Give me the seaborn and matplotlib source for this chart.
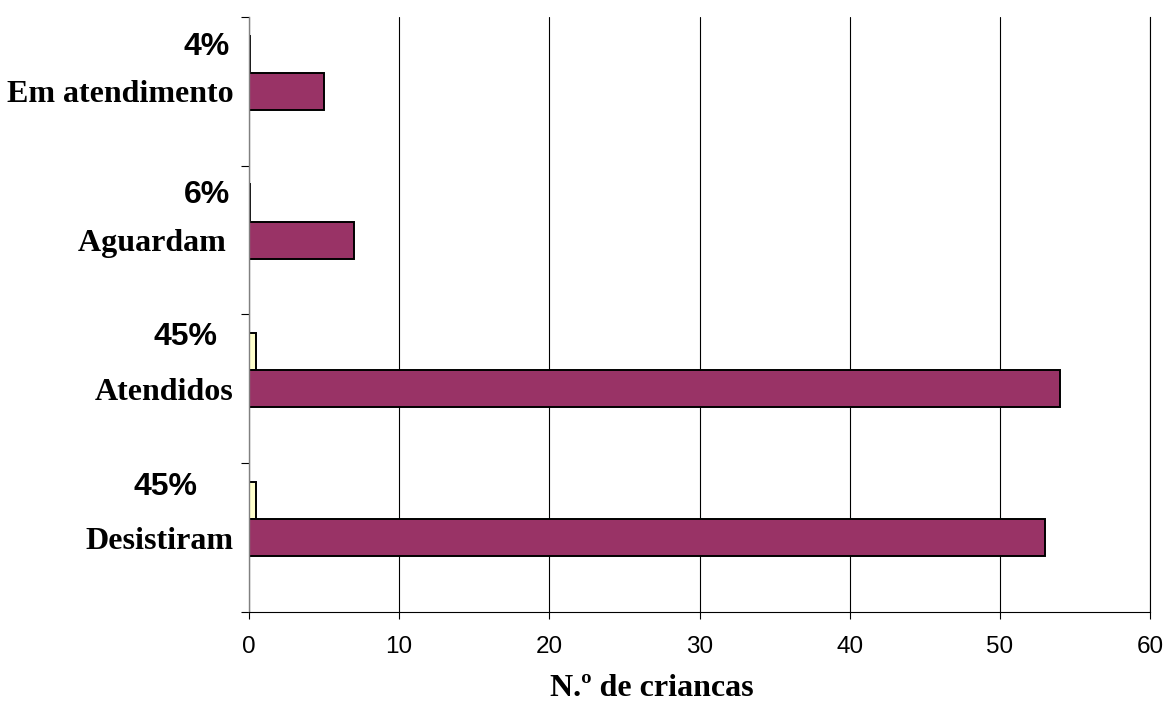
import matplotlib
matplotlib.use('Agg')
import matplotlib.pyplot as plt
import matplotlib.transforms as mtransforms
import seaborn as sns
import pandas as pd

# dados
categorias = ['Em atendimento', 'Aguardam', 'Atendidos', 'Desistiram']
rotulos_cat = ['Em atendimento', 'Aguardam ', 'Atendidos', 'Desistiram']
n_criancas = [5, 7, 54, 53]
percentagens = [0.04, 0.06, 0.45, 0.45]
rotulos_pct = ['4%', '6%', '45%', '45%']
x_ticks = [0, 10, 20, 30, 40, 50, 60]

sns.set_style('white')
plt.rcParams['font.family'] = ['Liberation Sans', 'DejaVu Sans']
plt.rcParams['text.color'] = 'black'
plt.rcParams['axes.labelcolor'] = 'black'
plt.rcParams['xtick.color'] = 'black'
plt.rcParams['ytick.color'] = 'black'

df = pd.DataFrame({
    'categoria': categorias * 2,
    'valor': percentagens + n_criancas,
    'serie': ['pct'] * 4 + ['n'] * 4,
})

fig = plt.figure(figsize=(11.68, 7.04), dpi=100)
ax = fig.add_axes([249 / 1168, 1 - 612 / 704, 901 / 1168, 595 / 704])

# terceira serie vazia reserva o espaco como no grafico original
cores = {'pct': '#FFFFCC', 'n': '#993366', 'vazio': '#FFFFFF'}
sns.barplot(data=df, y='categoria', x='valor', hue='serie',
            hue_order=['pct', 'n', 'vazio'], order=categorias,
            palette=cores, orient='h', width=0.75, dodge=True,
            edgecolor='black', linewidth=1.4, saturation=1,
            legend=False, ax=ax)

ax.set_xlim(0, 60)
ax.set_ylim(3.5, -0.5)
ax.set_xticks(x_ticks)
ax.set_xticklabels([str(t) for t in x_ticks], fontsize=17.5)
ax.tick_params(axis='x', length=5, width=0.8, color='black', pad=12,
               direction='out', bottom=True)

ax.set_yticks(range(len(categorias)))
ax.set_yticklabels(rotulos_cat, fontsize=23, fontweight='bold',
                   family='Liberation Serif')
ax.tick_params(axis='y', which='major', length=0, pad=11)
ax.set_yticks([i - 0.5 for i in range(len(categorias) + 1)], minor=True)
ax.tick_params(axis='y', which='minor', length=6, width=0.8,
               color='black', direction='out', left=True)

ax.set_ylabel('')
ax.set_xlabel('N.º de criancas', fontsize=23, fontweight='bold',
              family='Liberation Serif')
ax.xaxis.set_label_coords(0.447, -0.104)

ax.grid(axis='x', color='black', linewidth=0.8)
ax.grid(axis='y', visible=False)
ax.set_axisbelow(True)

ax.spines['top'].set_visible(False)
ax.spines['right'].set_color('black')
ax.spines['right'].set_linewidth(0.8)
ax.spines['bottom'].set_color('black')
ax.spines['bottom'].set_linewidth(0.8)
ax.spines['left'].set_color('#808080')
ax.spines['left'].set_linewidth(1.0)

# percentagens acima de cada categoria
trans = mtransforms.blended_transform_factory(ax.transAxes, ax.transData)
pos_x = [-0.021, -0.021, -0.0355, -0.0575]
desloc_y = [-0.30, -0.305, -0.35, -0.34]
for i, txt in enumerate(rotulos_pct):
    ax.text(pos_x[i], i + desloc_y[i], txt, transform=trans, ha='right',
            va='center', fontsize=23, fontweight='bold',
            family=['Liberation Sans', 'DejaVu Sans'])

fig.savefig('out.png', dpi=100)
